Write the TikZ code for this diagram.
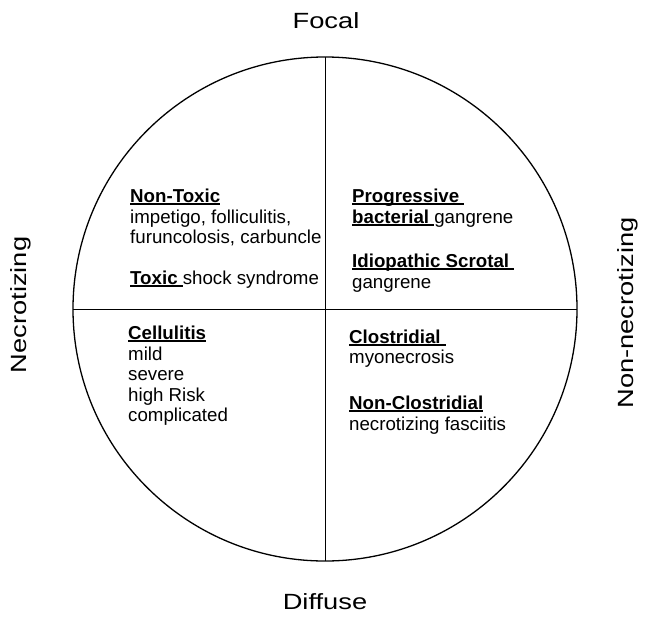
\documentclass[tikz,border=0pt]{standalone}
\usepackage{fontspec}
\setmainfont{Liberation Sans}
\newcommand{\hd}[1]{\setbox0\hbox{\textbf{#1}}\rlap{\rule[-2.8pt]{\wd0}{1.9pt}}\box0}
\newcommand{\widelbl}[1]{\scalebox{1.24}[1]{#1}}
\tikzset{
  axislabel/.style={inner sep=0pt, font=\fontsize{22}{25}\selectfont},
  txt/.style={inner sep=0pt, anchor=base west, font=\fontsize{18.7}{21}\selectfont},
  frame/.style={line width=1.3pt, black},
  divider/.style={line width=1pt, black}
}
\begin{document}
\begin{tikzpicture}[x=1pt,y=-1pt]
\useasboundingbox (0,0) rectangle (645,621);
\coordinate (c) at (325,309);
\draw[frame] (c) circle[radius=252];
\coordinate (t) at (325,57);
\coordinate (b) at (325,561);
\coordinate (l) at (73,309);
\coordinate (r) at (577,309);
\draw[divider] (t) -- (b);
\draw[divider] (l) -- (r);
\node[axislabel] (focal) at (326,21) {\widelbl{Focal}};
\node[axislabel] (diffuse) at (325,602) {\widelbl{Diffuse}};
\node[axislabel, rotate=90] (necro) at (21,305) {\widelbl{Necrotizing}};
\node[axislabel, rotate=90] (nonnecro) at (628,313) {\widelbl{Non-necrotizing}};
% top-left
\node[txt] (nt) at (130,202) {\hd{Non-Toxic}};
\node[txt] (nt1) at (130,223) {impetigo, folliculitis,};
\node[txt] (nt2) at (130,243) {furuncolosis, carbuncle};
\node[txt] (tx) at (130,284) {\hd{Toxic\ }shock syndrome};
% top-right
\node[txt] (pb) at (352,202) {\hd{Progressive\ }};
\node[txt] (pb1) at (352,223) {\hd{bacterial\ }gangrene};
\node[txt] (is) at (352,267) {\hd{Idiopathic Scrotal\ }};
\node[txt] (is1) at (352,288) {gangrene};
% bottom-left
\node[txt] (ce) at (128,339) {\hd{Cellulitis}};
\node[txt] (ce1) at (128,360) {mild};
\node[txt] (ce2) at (128,380) {severe};
\node[txt] (ce3) at (128,401) {high Risk};
\node[txt] (ce4) at (128,421) {complicated};
% bottom-right
\node[txt] (cl) at (349,343) {\hd{Clostridial\ }};
\node[txt] (cl1) at (349,363) {myonecrosis};
\node[txt] (nc) at (349,409) {\hd{Non-Clostridial}};
\node[txt] (nc1) at (349,430) {necrotizing fasciitis};
\end{tikzpicture}
\end{document}
